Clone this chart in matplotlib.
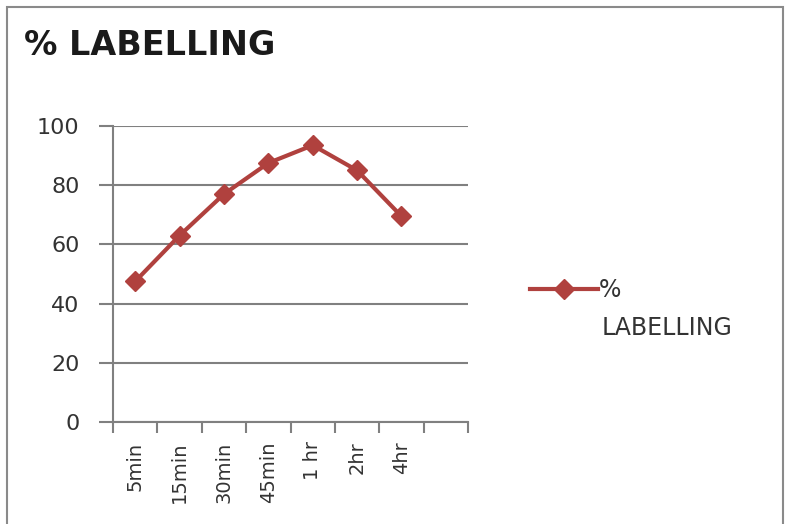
import matplotlib
matplotlib.use("Agg")
import matplotlib.pyplot as plt
from matplotlib.patches import Rectangle
import numpy as np

categories = ["5min", "15min", "30min", "45min", "1 hr", "2hr", "4hr"]
values = [47.5, 63, 77, 87.5, 93.5, 85, 69.5]
n_slots = 8
series_name = "% LABELLING"
title = "% LABELLING"
yticks = [0, 20, 40, 60, 80, 100]

plt.rcParams['font.family'] = ['DejaVu Sans']
fig = plt.figure(figsize=(7.88, 5.24), dpi=100)
fig.patches.append(Rectangle((0.009, -0.01), 0.985, 0.997, transform=fig.transFigure,
                             fill=False, edgecolor='#8a8a8a', linewidth=1.5))

ax = fig.add_axes([0.1434, 0.1947, 0.4506, 0.5648])
color = '#B0413E'
x = np.arange(len(categories))
name_parts = series_name.split(" ", 1)
ax.plot(x, values, color=color, linewidth=3, marker='D', markersize=10,
        markeredgecolor=color, markerfacecolor=color, label=name_parts[0], zorder=3)

ax.set_xlim(-0.5, n_slots - 0.5)
ax.set_ylim(0, 100)
ax.set_yticks(yticks)
ax.yaxis.grid(True, color='#808080', linewidth=1.5)
ax.set_axisbelow(True)
for s in ['top', 'right']:
    ax.spines[s].set_visible(False)
for s in ['left', 'bottom']:
    ax.spines[s].set_color('#808080')
    ax.spines[s].set_linewidth(1.5)

ax.set_xticks(np.arange(n_slots + 1) - 0.5)
ax.set_xticklabels([])
ax.set_xticks(x, minor=True)
ax.set_xticklabels(categories, minor=True, rotation=90, fontsize=14, color='#333333')
ax.tick_params(axis='x', which='major', length=8, width=1.5, color='#808080', direction='out')
ax.tick_params(axis='x', which='minor', length=0, pad=14)
ax.tick_params(axis='y', length=10, width=1.5, color='#808080', labelsize=16,
               labelcolor='#333333', pad=14)

fig.text(0.030, 0.913, title, fontsize=24, fontweight='bold', color='#1a1a1a',
         ha='left', va='center')

leg = ax.legend(loc='center left', bbox_to_anchor=(0.672, 0.447), bbox_transform=fig.transFigure,
                frameon=False, fontsize=17, handlelength=2.9, handletextpad=0.05,
                labelcolor='#333333', borderpad=0, borderaxespad=0)
fig.text(0.763, 0.374, name_parts[1], fontsize=17, color='#333333', ha='left', va='center')

fig.savefig("out.png", dpi=100)
